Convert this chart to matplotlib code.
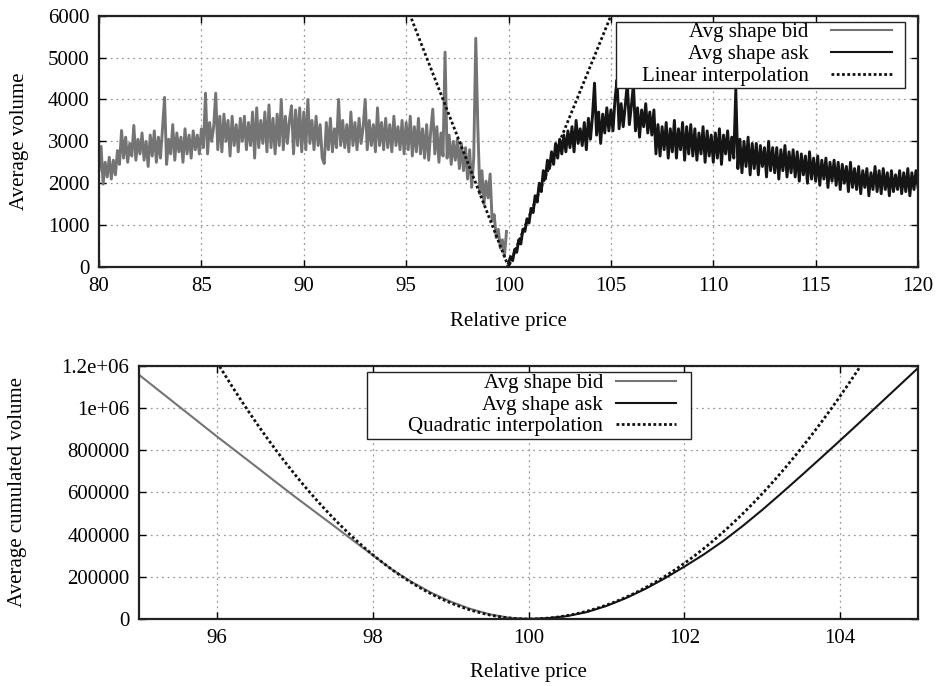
import numpy as np
import matplotlib
matplotlib.use("Agg")
import matplotlib.pyplot as plt
from matplotlib.patches import Rectangle

plt.rcParams['font.family'] = ['Liberation Serif', 'DejaVu Serif']
plt.rcParams['font.size'] = 15

# ---------------- average order book shape (price step 0.1) ----------------
bid_price_start, bid_price_step = 80.0, 0.1
bid_volume = [
    2300, 2880, 1980, 2500, 2150, 2620, 2100, 2550, 2200, 2780,   # 80
    2450, 3260, 2600, 3100, 2500, 2950, 2650, 3380, 2550, 3050,   # 81
    2700, 3200, 2550, 3000, 2400, 3150, 2650, 3250, 2500, 3100,   # 82
    2600, 3300, 4050, 2450, 3050, 2700, 3400, 2550, 3200, 2750,   # 83
    3100, 2500, 3300, 2700, 3150, 2600, 3250, 2800, 3150, 2700,   # 84
    3300, 2850, 4150, 2700, 3450, 3000, 3350, 4150, 2800, 3600,   # 85
    2750, 3650, 3000, 3500, 2650, 3600, 2900, 3400, 2750, 3550,   # 86
    3000, 3600, 2800, 3450, 2900, 3700, 2600, 3800, 2850, 3500,   # 87
    2950, 3700, 2750, 3870, 2850, 3550, 2700, 3650, 2900, 4000,   # 88
    2800, 3600, 2950, 3500, 3850, 2700, 3750, 2900, 3800, 2750,   # 89
    3700, 2800, 4000, 2950, 3500, 2800, 3600, 2900, 3400, 2600,   # 90
    2470, 3450, 2800, 3550, 2750, 3300, 2850, 4000, 2900, 3500,   # 91
    2850, 3400, 2750, 3700, 2900, 3450, 2800, 3550, 2950, 3350,   # 92
    4000, 2800, 3500, 2900, 3400, 2750, 3800, 2900, 3450, 2800,   # 93
    3550, 2850, 3400, 2750, 3600, 2900, 3350, 2800, 3500, 2700,   # 94
    3450, 2800, 3600, 2650, 3350, 2750, 3550, 2700, 3300, 2600,   # 95
    3400, 2550, 3250, 3770, 2700, 3350, 2500, 3200, 2650, 5130,   # 96
    2600, 3150, 2450, 3000, 2550, 3050, 2350, 2950, 2300, 2850,   # 97
    2100, 2800, 1900, 2600, 5460, 3350, 1750, 2300, 1500, 2050,   # 98
    1650, 2220, 1100, 1250, 700, 900, 450, 650, 250, 850,         # 99
]

ask_price_start, ask_price_step = 100.0, 0.1
ask_volume = [
    100, 250, 150, 420, 350, 650, 550, 900, 850, 1150,            # 100
    1050, 1400, 1300, 1700, 1550, 2000, 1800, 2300, 2100, 2550,   # 101
    2350, 2750, 2450, 2950, 2600, 3050, 2700, 3150, 2750, 3250,   # 102
    2850, 3350, 2750, 3500, 2950, 3300, 2900, 3450, 2800, 3550,   # 103
    3050, 3600, 4390, 3150, 3700, 2950, 3650, 3200, 3800, 3250,   # 104
    3750, 3250, 4000, 4470, 3300, 3900, 3350, 3850, 4390, 3400,   # 105
    3850, 4350, 3250, 3800, 3100, 3750, 3350, 3900, 3200, 3700,   # 106
    3150, 3750, 2700, 3400, 2650, 3350, 2800, 3450, 2600, 3300,   # 107
    2750, 3500, 2600, 3300, 2800, 3450, 2550, 3350, 2700, 3400,   # 108
    2650, 3300, 2550, 3200, 2700, 3350, 2500, 3250, 2650, 3150,   # 109
    2500, 3200, 2600, 3300, 2450, 3150, 2700, 3250, 2550, 3100,   # 110
    2600, 4230, 2350, 3050, 2250, 3000, 2400, 3100, 2200, 2950,   # 111
    2350, 2950, 2200, 2900, 2400, 2850, 2150, 3000, 2300, 2850,   # 112
    2250, 2850, 2100, 2800, 2300, 2900, 2150, 2750, 2250, 2800,   # 113
    2150, 2750, 2050, 2700, 2200, 2650, 2000, 2750, 2100, 2600,   # 114
    2050, 2650, 1950, 2550, 2100, 2600, 1900, 2500, 2050, 2550,   # 115
    1950, 2500, 1850, 2450, 2000, 2400, 1800, 2500, 1900, 2350,   # 116
    1850, 2400, 1750, 2300, 1900, 2350, 1700, 2250, 1850, 2400,   # 117
    1800, 2300, 1750, 2350, 1850, 2250, 1700, 2300, 1800, 2200,   # 118
    1850, 2300, 1750, 2250, 1800, 2350, 1700, 2250, 1850, 2300,   # 119
    1900,                                                          # 120
]

# slopes of the linear fit on each side of the reference price
linear_bid_slope = 1250.0
linear_ask_slope = 1200.0

# ---------------- average cumulated shape (price step 0.25) ----------------
cum_bid_price = [95.00, 95.25, 95.50, 95.75, 96.00, 96.25, 96.50, 96.75, 97.00,
                 97.25, 97.50, 97.75, 98.00, 98.25, 98.50, 98.75, 99.00, 99.25,
                 99.50, 99.75, 100.00]
cum_bid_volume = [1156000, 1083000, 1010000, 937000, 864000, 793000, 722000,
                  650000, 579000, 510000, 441000, 371000, 302000, 233000,
                  175000, 124000, 82000, 48000, 22000, 6000, 0]

cum_ask_price = [100.00, 100.25, 100.50, 100.75, 101.00, 101.25, 101.50, 101.75,
                 102.00, 102.25, 102.50, 102.75, 103.00, 103.25, 103.50, 103.75,
                 104.00, 104.25, 104.50, 104.75, 105.00]
cum_ask_volume = [0, 4000, 14000, 33000, 62000, 99000, 143000, 193000, 248000,
                  306000, 370000, 441000, 517000, 597000, 679000, 762000,
                  846000, 931000, 1017000, 1103000, 1189000]

# coefficients of the quadratic fit on each side
quad_bid_coef = 76000.0
quad_ask_coef = 66000.0
ref_price = 100.0

cum_ticks = [0, 200000, 400000, 600000, 800000, 1000000, 1200000]
cum_tick_labels = ["0", "200000", "400000", "600000", "800000", "1e+06", "1.2e+06"]

BID_COLOR = "#747474"
ASK_COLOR = "#151515"
DOT_STYLE = (0, (1, 0.9))
FS = 15


def style_axes(ax):
    for s in ax.spines.values():
        s.set_linewidth(1.6)
        s.set_color("#222222")
    ax.tick_params(direction="in", length=5, width=1.0, top=True, right=True,
                   labelsize=FS, pad=7)
    ax.grid(True, color="#9a9a9a", linestyle=(0, (1.5, 3)), linewidth=0.9)
    ax.set_axisbelow(True)


def boxed_legend(ax, frame, anchor, handletextpad, labelspacing):
    """Legend with right-aligned labels and a plain rectangular frame."""
    x0, y0, x1, y1 = frame
    ax.add_patch(Rectangle((x0, y0), x1 - x0, y1 - y0, transform=ax.transAxes,
                           facecolor="white", edgecolor="#222222", lw=1.0,
                           zorder=4))
    leg = ax.legend(loc="upper right", bbox_to_anchor=anchor, borderaxespad=0,
                    borderpad=0, markerfirst=False, frameon=False, fontsize=FS,
                    handlelength=2.9, handletextpad=handletextpad,
                    labelspacing=labelspacing)
    leg.set_zorder(5)
    return leg


fig = plt.figure(figsize=(9.44, 6.86), dpi=100)

# ---- top panel: average volume ----
ax1 = fig.add_axes([0.1049, 0.6108, 0.8676, 0.3663])
bid_x = bid_price_start + bid_price_step * np.arange(len(bid_volume))
ask_x = ask_price_start + ask_price_step * np.arange(len(ask_volume))
ax1.plot(bid_x, bid_volume, color=BID_COLOR, lw=2.1, label="Avg shape bid")
ax1.plot(ask_x, ask_volume, color=ASK_COLOR, lw=2.1, label="Avg shape ask")
lin_x = np.linspace(80, 120, 801)
lin_y = np.where(lin_x < ref_price, linear_bid_slope * (ref_price - lin_x),
                 linear_ask_slope * (lin_x - ref_price))
ax1.plot(lin_x, lin_y, color="#111111", lw=2.0, linestyle=DOT_STYLE,
         label="Linear interpolation")
ax1.set_xlim(80, 120)
ax1.set_ylim(0, 6000)
ax1.set_xticks(np.arange(80, 121, 5))
ax1.set_yticks(np.arange(0, 6001, 1000))
style_axes(ax1)
ax1.set_xlabel("Relative price", fontsize=FS)
ax1.set_ylabel("Average volume", fontsize=FS)
ax1.xaxis.set_label_coords(0.5, -0.18)
ax1.yaxis.set_label_coords(-0.085, 0.5)
leg1 = boxed_legend(ax1, (0.6313, 0.7111, 0.9841, 0.9761), (0.9679, 0.972), 1.1, 0.12)
leg1.legend_handles[0].set_linewidth(1.5)
leg1.legend_handles[1].set_linewidth(1.5)

# ---- bottom panel: average cumulated volume ----
ax2 = fig.add_axes([0.1475, 0.0977, 0.825, 0.3692])
ax2.plot(cum_bid_price, cum_bid_volume, color=BID_COLOR, lw=1.5, label="Avg shape bid")
ax2.plot(cum_ask_price, cum_ask_volume, color=ASK_COLOR, lw=1.5, label="Avg shape ask")
quad_x = np.linspace(95, 105, 801)
quad_y = np.where(quad_x < ref_price, quad_bid_coef * (quad_x - ref_price) ** 2,
                  quad_ask_coef * (quad_x - ref_price) ** 2)
ax2.plot(quad_x, quad_y, color="#111111", lw=2.0, linestyle=DOT_STYLE,
         label="Quadratic interpolation")
ax2.set_xlim(95, 105)
ax2.set_ylim(0, 1200000)
ax2.set_xticks([96, 98, 100, 102, 104])
ax2.set_yticks(cum_ticks, cum_tick_labels)
style_axes(ax2)
ax2.set_xlabel("Relative price", fontsize=FS)
ax2.set_ylabel("Average cumulated volume", fontsize=FS)
ax2.xaxis.set_label_coords(0.5, -0.174)
ax2.yaxis.set_label_coords(-0.1435, 0.5)
boxed_legend(ax2, (0.2921, 0.7106, 0.7085, 0.9763), (0.6893, 0.969), 0.6, 0.1)

fig.savefig("out.png", dpi=100)
